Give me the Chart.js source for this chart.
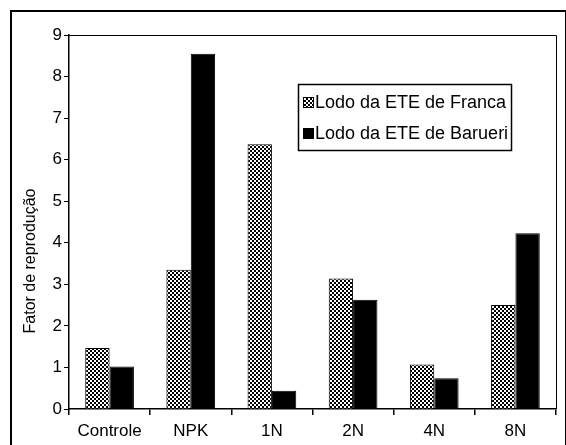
<!DOCTYPE html>
<html>
<head>
<meta charset="utf-8">
<script src="https://cdn.jsdelivr.net/npm/chart.js@4.4.0/dist/chart.umd.min.js"></script>
<style>
    html, body { margin: 0; padding: 0; background: #fff; overflow: hidden; }
    #wrap { position: relative; width: 566px; height: 445px; }
    #frame { position: absolute; left: 10px; top: 10px; width: 553px; height: 445px;
             border-left: 2px solid #000; border-top: 2px solid #000; border-right: 2px solid #000; }
    canvas { position: absolute; left: 0; top: 0; }
</style>
</head>
<body>
<div id="wrap">
    <div id="frame"></div>
    <canvas id="chart" width="566" height="445"></canvas>
</div>
<script>
const categories = ['Controle', 'NPK', '1N', '2N', '4N', '8N'];
const franca = [1.47, 3.35, 6.37, 3.14, 1.07, 2.5];
const barueri = [1.02, 8.55, 0.44, 2.63, 0.74, 4.23];
const seriesLabels = ['Lodo da ETE de Franca', 'Lodo da ETE de Barueri'];
const yTitle = 'Fator de reprodução';
const yTicks = [0, 1, 2, 3, 4, 5, 6, 7, 8, 9];

const FONT = '"Liberation Sans", Arial, sans-serif';

// checker pattern for the first series
function makeChecker() {
    const c = document.createElement('canvas');
    c.width = 4;
    c.height = 4;
    const g = c.getContext('2d');
    g.fillStyle = '#fff';
    g.fillRect(0, 0, 4, 4);
    g.fillStyle = '#000';
    g.fillRect(0, 0, 2, 2);
    g.fillRect(2, 2, 2, 2);
    return g.createPattern(c, 'repeat');
}

const ctx = document.getElementById('chart').getContext('2d');
const checker = makeChecker();

// plot box (top/right lines), y title (sits low, as in the original) and boxed legend
const extras = {
    id: 'extras',
    afterDraw(chart) {
        const a = chart.chartArea;
        const g = chart.ctx;
        g.save();
        g.strokeStyle = '#000';
        g.lineWidth = 1;
        g.beginPath();
        g.moveTo(a.left, a.top + 0.5);
        g.lineTo(a.right + 0.5, a.top + 0.5);
        g.lineTo(a.right + 0.5, a.bottom);
        g.stroke();

        g.save();
        g.translate(31, 261);
        g.rotate(-Math.PI / 2);
        g.font = '16px ' + FONT;
        g.fillStyle = '#000';
        g.textAlign = 'center';
        g.textBaseline = 'middle';
        g.fillText(yTitle, 0, 0);
        g.restore();

        // legend
        const lx = 298, ly = 84, lw = 213, lh = 66;
        g.fillStyle = '#fff';
        g.fillRect(lx, ly, lw, lh);
        g.lineWidth = 1.5;
        g.strokeRect(lx + 0.5, ly + 0.5, lw, lh);
        g.font = '18px ' + FONT;
        g.textBaseline = 'middle';
        const fills = [checker, '#000'];
        seriesLabels.forEach((t, i) => {
            const y = ly + 18 + i * 31;
            g.fillStyle = fills[i];
            g.fillRect(lx + 5, y - 5, 11, 11);
            g.strokeStyle = '#000';
            g.lineWidth = 1;
            g.strokeRect(lx + 5.5, y - 4.5, 10, 10);
            g.fillStyle = '#000';
            g.fillText(t, lx + 17, y + 1);
        });
        g.restore();
    }
};

new Chart(ctx, {
    type: 'bar',
    data: {
        labels: categories,
        datasets: [
            { label: seriesLabels[0], data: franca, backgroundColor: checker, borderColor: '#000', borderWidth: 1 },
            { label: seriesLabels[1], data: barueri, backgroundColor: '#000', borderColor: '#000', borderWidth: 1 }
        ]
    },
    options: {
        responsive: false,
        animation: false,
        layout: { padding: { left: 10, right: 10, top: 35, bottom: 0 } },
        datasets: { bar: { categoryPercentage: 0.6, barPercentage: 1.0 } },
        plugins: { legend: { display: false }, tooltip: { enabled: false } },
        scales: {
            x: {
                grid: { display: true, drawOnChartArea: false, offset: true, color: '#000', tickLength: 6, lineWidth: 1.5 },
                border: { color: '#000', width: 1.5 },
                ticks: { color: '#000', font: { family: FONT, size: 17 }, padding: 6 },
                afterFit(scale) { scale.height = 36; }
            },
            y: {
                min: 0,
                max: 9,
                afterBuildTicks(scale) { scale.ticks = yTicks.map(v => ({ value: v })); },
                grid: { display: true, drawOnChartArea: false, color: '#000', tickLength: 5, lineWidth: 1 },
                border: { color: '#000', width: 1.5 },
                ticks: { color: '#000', font: { family: FONT, size: 17 }, padding: 2 },
                afterFit(scale) { scale.width = 59; }
            }
        }
    },
    plugins: [extras]
});
</script>
</body>
</html>
